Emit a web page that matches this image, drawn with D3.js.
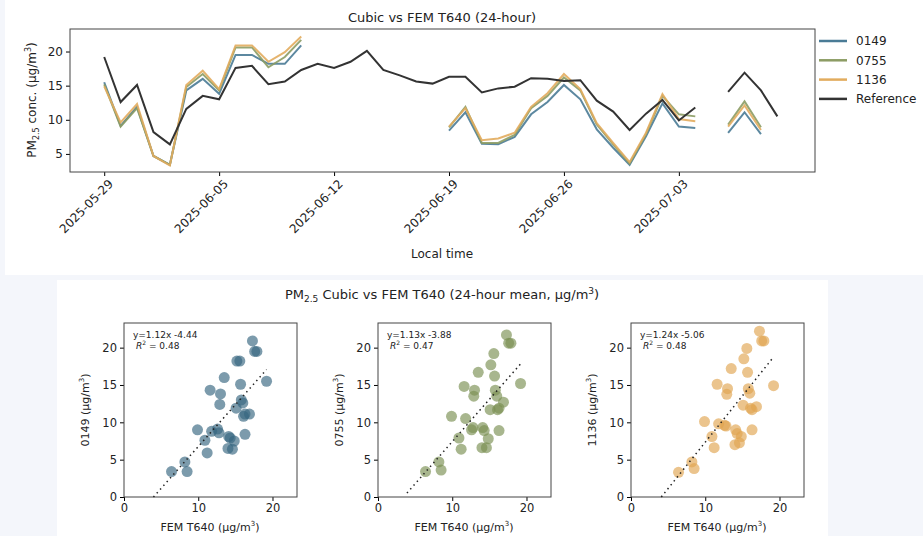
<!DOCTYPE html>
<html>
<head>
<meta charset="utf-8">
<script src="https://cdn.jsdelivr.net/npm/d3@7"></script>
<style>
  body { margin: 0; background: #f4f6fb; font-family: "DejaVu Sans", sans-serif; }
  svg text { fill: #222; }
</style>
</head>
<body>
<svg id="chart" width="923" height="536"></svg>
<script>
// daily means, day index 0 = 2025-05-29 (null = no data)
var startDay = '2025-05-29';
var ref = [19.2, 12.6, 15.1, 8.2, 6.4, 11.6, 13.5, 13.0, 17.6, 17.9, 15.2, 15.6, 17.3, 18.2, 17.6, 18.5, 20.1, 17.3, 16.5, 15.6, 15.3,
  16.3, 16.3, 14.0, 14.6, 14.85, 16.1, 16.0, 15.7, 15.8, 12.8, 11.2, 8.5, 10.9, 12.9, 9.9, 11.8, null, 14.1, 16.9, 14.3, 10.5];
var s0149 = [15.5, 9.1, 11.9, 4.7, 3.4, 14.3, 16.0, 13.8, 19.5, 19.5, 18.2, 18.2, 20.9, null, null, null, null, null, null, null, null,
  8.4, 11.1, 6.5, 6.4, 7.5, 10.8, 12.6, 15.1, 13.0, 8.6, 5.9, 3.4, 7.6, 12.4, 9.0, 8.8, null, 8.1, 11.1, 7.9, null];
var s0755 = [15.2, 9.0, 11.7, 4.7, 3.4, 14.8, 16.7, 14.3, 20.6, 20.6, 17.7, 19.2, 21.7, null, null, null, null, null, null, null, null,
  8.9, 11.9, 6.6, 6.6, 7.8, 11.7, 13.5, 16.2, 14.3, 9.3, 6.4, 3.6, 7.9, 13.5, 10.8, 10.5, null, 9.3, 12.7, 8.9, null];
var s1136 = [14.9, 9.6, 12.3, 4.7, 3.3, 15.1, 17.2, 14.5, 20.9, 20.9, 18.5, 19.9, 22.2, null, null, null, null, null, null, null, null,
  9.0, 11.7, 7.0, 7.25, 8.1, 11.9, 13.9, 16.7, 14.5, 9.5, 6.6, 3.8, 8.1, 13.75, 10.1, 9.8, null, 9.0, 12.1, 8.5, null];
var seriesNames = ['0149', '0755', '1136', 'Reference'];
var seriesColors = ['#4a7b96', '#8c9c64', '#e2ac5e', '#333333'];
var scatterColors = ['#35657f', '#7a8f52', '#e0a550'];
var fits = [{m: 1.12, b: -4.44, r2: '0.48'}, {m: 1.13, b: -3.88, r2: '0.47'}, {m: 1.24, b: -5.06, r2: '0.48'}];
var dateTicks = ['2025-05-29', '2025-06-05', '2025-06-12', '2025-06-19', '2025-06-26', '2025-07-03'];
var yTicksTop = [5, 10, 15, 20];
var scatterTicks = [0, 5, 10, 15, 20];
var xTicksScatter = [0, 10, 20];

var svg = d3.select('#chart');
var parse = d3.utcParse('%Y-%m-%d');
var t0 = parse(startDay);
function dayDate(i) { return d3.utcDay.offset(t0, i); }

// white figure backgrounds
svg.append('rect').attr('x', 5).attr('y', 0).attr('width', 918).attr('height', 275).attr('fill', '#fff');
svg.append('rect').attr('x', 57).attr('y', 280).attr('width', 771).attr('height', 256).attr('fill', '#fff');

/*
 * time series
 */
var x = d3.scaleUtc().domain([d3.utcHour.offset(t0, -2.06 * 24), d3.utcHour.offset(t0, 43.3 * 24)]).range([70, 815]);
var y = d3.scaleLinear().domain([2.35, 23.3]).range([172, 29]);

var tsG = svg.append('g');
tsG.append('g').attr('transform', 'translate(0,172)')
  .call(d3.axisBottom(x).tickValues(dateTicks.map(parse)).tickFormat(d3.utcFormat('%Y-%m-%d')).tickSize(4).tickSizeOuter(0))
  .selectAll('text').attr('transform', 'rotate(-45)').attr('text-anchor', 'end').attr('dx', '-0.2em').attr('dy', '0.7em');
tsG.append('g').attr('transform', 'translate(70,0)')
  .call(d3.axisLeft(y).tickValues(yTicksTop).tickSize(4).tickSizeOuter(0));
tsG.selectAll('.tick text').attr('font-size', 12).attr('font-family', 'DejaVu Sans');
tsG.selectAll('.domain').remove();
tsG.append('rect').attr('x', 70).attr('y', 29).attr('width', 745).attr('height', 143)
  .attr('fill', 'none').attr('stroke', '#444').attr('stroke-width', 1);

var line = d3.line().defined(function(d) { return d != null; })
  .x(function(d, i) { return x(dayDate(i)); }).y(function(d) { return y(d); });
[s0149, s0755, s1136, ref].forEach(function(s, k) {
  tsG.append('path').datum(s).attr('d', line).attr('fill', 'none')
    .attr('stroke', seriesColors[k]).attr('stroke-width', 2).attr('opacity', k < 3 ? 0.9 : 1);
});

tsG.append('text').attr('x', 442).attr('y', 22).attr('text-anchor', 'middle').attr('font-size', 13).text('Cubic vs FEM T640 (24-hour)');
tsG.append('text').attr('x', 442).attr('y', 258).attr('text-anchor', 'middle').attr('font-size', 12).text('Local time');
var yl = tsG.append('text').attr('transform', 'translate(36,100) rotate(-90)').attr('text-anchor', 'middle').attr('font-size', 12);
yl.append('tspan').text('PM');
yl.append('tspan').attr('font-size', 8).attr('dy', 3).text('2.5');
yl.append('tspan').attr('dy', -3).text(' conc. (µg/m');
yl.append('tspan').attr('font-size', 8).attr('dy', -5).text('3');
yl.append('tspan').attr('dy', 5).text(')');

var legend = tsG.append('g').selectAll('g').data(seriesNames).enter().append('g')
  .attr('transform', function(d, i) { return 'translate(819,' + (41 + i * 19.3) + ')'; });
legend.append('line').attr('x1', 0).attr('x2', 28).attr('stroke-width', 2.5)
  .attr('stroke', function(d, i) { return seriesColors[i]; });
legend.append('text').attr('x', 37).attr('dy', '0.35em').attr('font-size', 12).text(function(d) { return d; });

/*
 * scatter panels
 */
var bt = svg.append('text').attr('x', 442).attr('y', 299).attr('text-anchor', 'middle').attr('font-size', 13);
bt.append('tspan').text('PM');
bt.append('tspan').attr('font-size', 9).attr('dy', 3).text('2.5');
bt.append('tspan').attr('dy', -3).text(' Cubic vs FEM T640 (24-hour mean, µg/m');
bt.append('tspan').attr('font-size', 9).attr('dy', -5).text('3');
bt.append('tspan').attr('dy', 5).text(')');

var panelLeft = [124, 378, 631];
var sensors = [s0149, s0755, s1136];
sensors.forEach(function(s, k) {
  var left = panelLeft[k];
  var sx = d3.scaleLinear().domain([0, 23.3]).range([left, left + 173]);
  var sy = d3.scaleLinear().domain([0, 23.3]).range([497, 323]);
  var g = svg.append('g');
  g.append('g').attr('transform', 'translate(0,497)')
    .call(d3.axisBottom(sx).tickValues(xTicksScatter).tickSize(4).tickSizeOuter(0));
  g.append('g').attr('transform', 'translate(' + left + ',0)')
    .call(d3.axisLeft(sy).tickValues(scatterTicks).tickSize(4).tickSizeOuter(0));
  g.selectAll('.tick text').attr('font-size', 11.5).attr('font-family', 'DejaVu Sans');
  g.selectAll('.domain').remove();
  g.append('rect').attr('x', left).attr('y', 323).attr('width', 173).attr('height', 174)
    .attr('fill', 'none').attr('stroke', '#444');

  var pairs = [];
  s.forEach(function(v, i) { if (v != null && ref[i] != null) pairs.push([ref[i], v]); });
  g.selectAll('circle').data(pairs).enter().append('circle')
    .attr('cx', function(d) { return sx(d[0]); }).attr('cy', function(d) { return sy(d[1]); })
    .attr('r', 5.5).attr('fill', scatterColors[k]).attr('opacity', 0.65);

  var f = fits[k];
  var xs = d3.extent(pairs, function(d) { return d[0]; });
  var x0 = Math.max(xs[0] - 2.5, -f.b / f.m);
  g.append('line').attr('x1', sx(x0)).attr('y1', sy(f.m * x0 + f.b))
    .attr('x2', sx(xs[1])).attr('y2', sy(f.m * xs[1] + f.b))
    .attr('stroke', '#222').attr('stroke-width', 1.5).attr('stroke-dasharray', '1.5,3.5');

  g.append('text').attr('x', left + 9).attr('y', 338).attr('font-size', 9).text('y=' + f.m + 'x ' + f.b);
  var r = g.append('text').attr('x', left + 12).attr('y', 349).attr('font-size', 9);
  r.append('tspan').attr('font-style', 'italic').text('R');
  r.append('tspan').attr('font-size', 6).attr('dy', -4).text('2');
  r.append('tspan').attr('dy', 4).text(' = ' + f.r2);

  g.append('text').attr('x', left + 86).attr('y', 531).attr('text-anchor', 'middle').attr('font-size', 11)
    .call(function(t) {
      t.append('tspan').text('FEM T640 (µg/m');
      t.append('tspan').attr('font-size', 7).attr('dy', -5).text('3');
      t.append('tspan').attr('dy', 5).text(')');
    });
  var yt = g.append('text').attr('transform', 'translate(' + (left - 35) + ',410) rotate(-90)')
    .attr('text-anchor', 'middle').attr('font-size', 11);
  yt.append('tspan').text(seriesNames[k] + ' (µg/m');
  yt.append('tspan').attr('font-size', 7).attr('dy', -5).text('3');
  yt.append('tspan').attr('dy', 5).text(')');
});
</script>
</body>
</html>
